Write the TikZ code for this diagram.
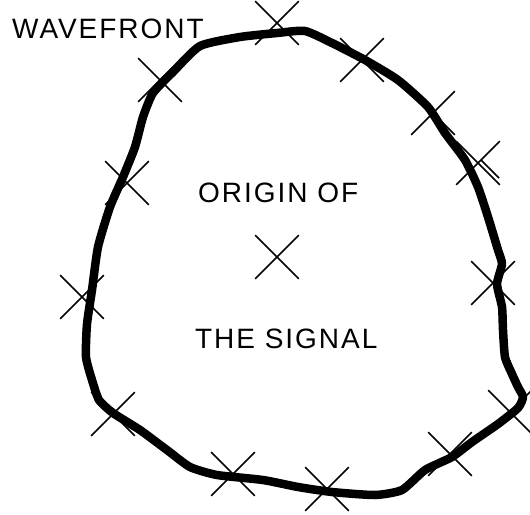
\documentclass[tikz,border=0pt]{standalone}
\usepackage{fontspec}
\setmainfont{Liberation Sans}[LetterSpace=7]
\usetikzlibrary{shapes.misc}
\tikzset{
  mark cross/.style={cross out, draw=black, line width=1.6pt, minimum width=42pt, minimum height=42pt, inner sep=0pt},
  label text/.style={font=\fontsize{28}{30}\selectfont, inner sep=0pt, anchor=base west},
  wave/.style={line width=8.5pt, line join=round, line cap=round}
}
\begin{document}
\begin{tikzpicture}[x=1pt, y=-1pt]
\useasboundingbox[fill=white] (0,0) rectangle (530,514);
% labels
\node[label text] (wf) at (12,38) {WAVEFRONT};
\node[label text] (orig) at (198,202) {ORIGIN OF};
\node[label text] (sig) at (195,348) {THE SIGNAL};
% origin
\node[mark cross] (o) at (277,257) {};
% marks along the wavefront
\node[mark cross] (c1) at (277,23) {};
\node[mark cross] (c2) at (362,60) {};
\node[mark cross] (c3) at (433,113) {};
\node[mark cross] (c4) at (478,163) {};
\draw[line width=1.6pt] ([shift={(3,-3)}]c4.center) -- ++(18,18);
\node[mark cross] (c5) at (493,283) {};
\node[mark cross] (c6) at (510,412) {};
\node[mark cross] (c7) at (450,454) {};
\node[mark cross] (c8) at (327,489) {};
\node[mark cross] (c9) at (233,474) {};
\node[mark cross] (c10) at (113,414) {};
\node[mark cross] (c11) at (82,297) {};
\node[mark cross] (c12) at (127,183) {};
\node[mark cross] (c13) at (160,80) {};
% wavefront curve
\draw[wave] plot[smooth cycle, tension=0.35] coordinates {
(200,46) (173,72) (153,93) (143,117) (135,147) (123,177) (110,207) (98,247)
(92,290) (87,324) (86,357) (92,380) (99,400) (113,413) (140,430) (167,450)
(190,467) (217,475) (263,480) (298,487) (332,492) (375,495) (402,490) (425,470)
(452,457) (472,442) (498,424) (518,408) (523,397) (518,387) (512,374) (505,357)
(503,330) (502,307) (497,284) (502,264) (498,250) (488,217) (478,187) (465,160)
(445,133) (428,107) (398,80) (365,60) (332,43) (305,31) (277,33) (240,37)};
\end{tikzpicture}
\end{document}
